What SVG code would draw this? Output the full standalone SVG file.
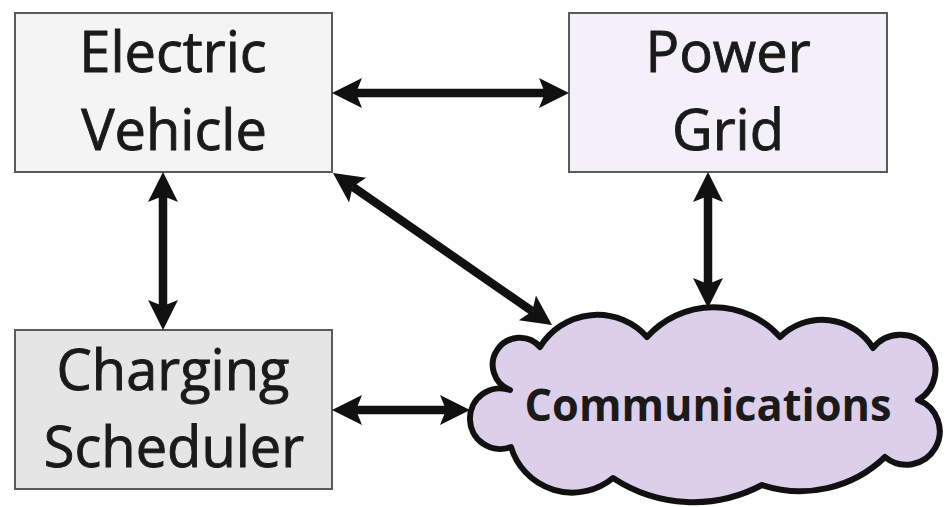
<svg xmlns="http://www.w3.org/2000/svg" width="946" height="507" viewBox="0 0 946 507">
<style>
.box{stroke:#5a5a5a;stroke-width:2}
.lbl{font-family:"Open Sans","Noto Sans","Liberation Sans",sans-serif;font-size:56px;fill:#1a1a1a;stroke:#1a1a1a;stroke-width:0.9;text-anchor:middle}
.cl{font-family:"Open Sans","Noto Sans","Liberation Sans",sans-serif;font-size:45px;font-weight:bold;fill:#1a1a1a;text-anchor:middle}
.arr{stroke:#111;stroke-width:8.5;fill:none;marker-start:url(#ah);marker-end:url(#ah)}
</style>
<defs>
<marker id="ah" markerUnits="userSpaceOnUse" viewBox="-8 -17 34 34" markerWidth="34" markerHeight="34" refX="0" refY="0" orient="auto-start-reverse">
<path d="M-6,-15 L24,0 L-6,15 L0,0 Z" fill="#111"/>
</marker>
</defs>
<rect width="946" height="507" fill="#ffffff"/>
<g id="electric-vehicle">
<rect class="box" x="15" y="13" width="317" height="159" fill="#f4f4f4"/>
<text class="lbl" x="173" y="72">Electric</text>
<text class="lbl" x="174" y="150">Vehicle</text>
</g>
<g id="power-grid">
<rect class="box" x="569" y="13" width="318" height="159" fill="#f4f0fa"/>
<text class="lbl" x="728" y="72">Power</text>
<text class="lbl" x="728" y="150">Grid</text>
</g>
<g id="charging-scheduler">
<rect class="box" x="15" y="330" width="317" height="159" fill="#e5e5e5"/>
<text class="lbl" x="173" y="390">Charging</text>
<text class="lbl" x="174" y="467">Scheduler</text>
</g>
<g id="communications">
<path d="M510,390 A27,27 0 1 1 540,347 A67,67 0 0 1 647,337 A89,89 0 0 1 780,337 A60,60 0 0 1 873,348 A35,35 0 1 1 918,400 A33.4,33.4 0 1 1 885,457 A122,122 0 0 1 762,485 A146,146 0 0 1 613,478 A64,64 0 0 1 511,447 A30.3,30.3 0 1 1 510,390 Z" fill="#dccfea" stroke="#111" stroke-width="6" stroke-linejoin="round"/>
<text class="cl" x="708" y="421" textLength="367" lengthAdjust="spacingAndGlyphs">Communications</text>
</g>
<g id="connectors">
<line class="arr" x1="356" y1="93" x2="545" y2="93"/>
<line class="arr" x1="163" y1="196" x2="163" y2="306"/>
<line class="arr" x1="708" y1="196" x2="708" y2="284"/>
<line class="arr" x1="352.7" y1="186.7" x2="532.3" y2="311.3"/>
<line class="arr" x1="356" y1="410" x2="446" y2="410"/>
</g>
</svg>
